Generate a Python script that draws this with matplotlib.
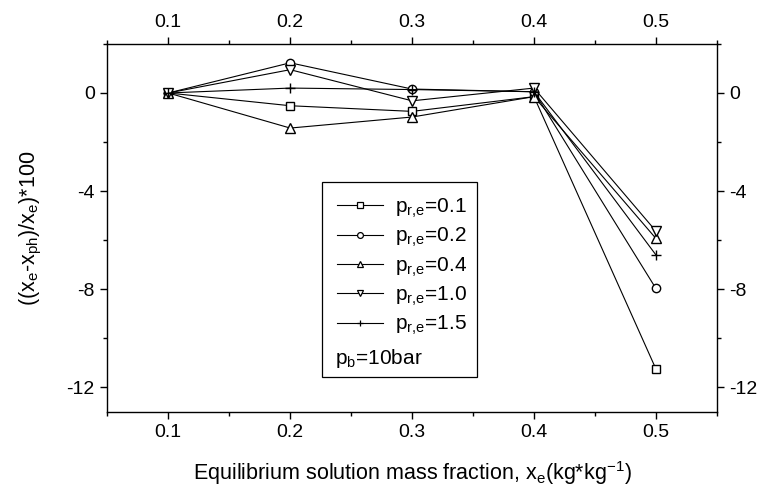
import matplotlib
matplotlib.use("Agg")
import matplotlib.pyplot as plt
from matplotlib.lines import Line2D
from matplotlib.ticker import MultipleLocator

plt.rcParams['font.family'] = 'Liberation Sans'
plt.rcParams['mathtext.fontset'] = 'custom'
plt.rcParams['mathtext.rm'] = 'Liberation Sans'
plt.rcParams['mathtext.it'] = 'Liberation Sans'
plt.rcParams['axes.unicode_minus'] = False

# equilibrium solution mass fraction
x_e = [0.1, 0.2, 0.3, 0.4, 0.5]

# relative deviation (%) for each reduced pressure p_r,e
dev_p01 = [0.0, -0.52, -0.75, -0.15, -11.25]
dev_p02 = [0.0, 1.23, 0.16, 0.05, -7.97]
dev_p04 = [0.0, -1.43, -0.98, -0.15, -5.93]
dev_p10 = [0.0, 0.95, -0.32, 0.2, -5.63]
dev_p15 = [0.0, 0.2, 0.14, 0.05, -6.6]

labels = ['0.1', '0.2', '0.4', '1.0', '1.5']
series = [dev_p01, dev_p02, dev_p04, dev_p10, dev_p15]
markers = ['s', 'o', '^', 'v', '+']
msizes = [5.5, 6, 7, 7, 7]

fig = plt.figure(figsize=(7.61, 4.88), dpi=100)
ax = fig.add_axes([0.141, 0.156, 0.801, 0.754])

handles = []
for ys, m, ms, lab in zip(series, markers, msizes, labels):
    ax.plot(x_e, ys, color='black', lw=0.8, marker=m, ms=ms,
            mfc='white', mec='black', mew=1.0)
    handles.append(Line2D([], [], color='black', lw=0.8, marker=m,
                          ms=ms * 0.7, mfc='white', mec='black', mew=0.9,
                          label=r'p$_{\mathregular{r{,}e}}$=' + lab))
handles.append(Line2D([], [], color='none', label=' '))

ax.set_xlim(0.05, 0.55)
ax.set_ylim(-13, 2)
ax.xaxis.set_minor_locator(MultipleLocator(0.05))
ax.yaxis.set_minor_locator(MultipleLocator(2))
ax.set_xticks([0.1, 0.2, 0.3, 0.4, 0.5])
ax.set_xticklabels(['0.1', '0.2', '0.3', '0.4', '0.5'])
ax.set_yticks([0, -4, -8, -12])
ax.set_yticklabels(['0', '-4', '-8', '-12'])

ax.tick_params(which='both', direction='out', top=True, right=True,
               labeltop=True, labelright=True, width=1.0)
ax.tick_params(which='major', length=5, labelsize=14, pad=4)
ax.tick_params(which='minor', length=3)
for sp in ax.spines.values():
    sp.set_linewidth(1.0)

ax.set_xlabel(r'Equilibrium solution mass fraction, x$_{\mathregular{e}}$(kg*kg$^{\mathregular{-1}}$)',
              fontsize=15.5, labelpad=13)
ax.set_ylabel(r'((x$_{\mathregular{e}}$-x$_{\mathregular{ph}}$)/x$_{\mathregular{e}}$)*100',
              fontsize=15.5, labelpad=16)

leg = ax.legend(handles=handles, loc='upper left',
                bbox_to_anchor=(0.353, 0.625, 0.254, 0.0), mode='expand',
                borderaxespad=0, fontsize=15, frameon=True, fancybox=False,
                edgecolor='black', framealpha=1.0, handlelength=2.2,
                handletextpad=0.6, labelspacing=0.3, borderpad=0.7)
leg.get_frame().set_linewidth(0.9)

ax.text(0.374, 0.146, r'p$_{\mathregular{b}}$=10bar', transform=ax.transAxes,
        fontsize=15, va='center', ha='left', zorder=10)

fig.savefig('out.png', dpi=100)
